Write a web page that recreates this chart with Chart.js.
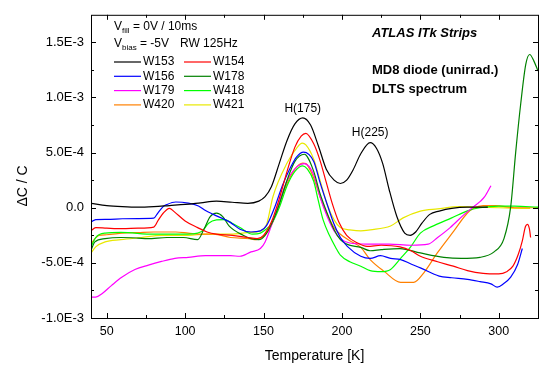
<!DOCTYPE html>
<html>
<head>
<meta charset="utf-8">
<title>MD8 diode DLTS spectrum</title>
<script src="https://cdn.jsdelivr.net/npm/chart.js"></script>
<style>
    body { margin: 0; background: #fff; }
    #dlts { display: block; }
</style>
</head>
<body>
<canvas id="dlts" width="543" height="372"></canvas>
<script>
// DLTS signal dC/C, values in units of 1E-4, temperatures in K
const tW153 = [40, 50, 60, 70, 80, 90, 100, 110, 120, 130, 140, 147, 151, 155, 160, 165, 170, 175, 180, 185, 190, 195, 199, 203, 207, 212, 218, 222, 226, 230, 235, 240, 243.5, 247, 251, 256, 262, 270, 280, 293];
const vW153 = [0.4, 0.2, 0.1, 0.05, 0.1, 0.2, 0.3, 0.45, 0.6, 0.5, 0.4, 0.6, 1.0, 1.9, 4.0, 6.1, 7.6, 8.15, 7.5, 5.6, 3.5, 2.5, 2.2, 2.5, 3.4, 4.9, 5.9, 5.4, 4.0, 1.7, -0.8, -2.3, -2.5, -2.2, -1.4, -0.6, -0.3, -0.05, 0.05, 0.05];

const tW154 = [40, 43, 50, 60, 70, 80, 83, 86, 90, 93, 100, 108, 114, 120, 130, 140, 146, 150, 155, 160, 165, 170, 174, 177, 182, 186, 190, 194, 198, 203, 210, 216, 225, 237, 244, 250, 261, 271, 280, 290, 300, 305, 309, 312.5, 315, 317, 318.3, 319.5, 320.3];
const vW154 = [-2.1, -1.8, -1.85, -1.9, -1.85, -1.75, -1.1, -0.5, -0.05, -0.35, -1.2, -1.8, -2.2, -2.4, -2.5, -2.7, -2.8, -2.5, -1.3, 0.8, 3.3, 5.5, 6.5, 6.75, 5.8, 4.3, 2.3, 0.3, -1.3, -2.5, -3.2, -3.5, -3.4, -3.55, -3.9, -4.4, -4.9, -5.3, -5.7, -5.95, -6.0, -5.8, -5.3, -4.2, -3.0, -1.7, -1.5, -1.9, -2.7];

const tW156 = [40, 43, 50, 60, 70, 80, 82.5, 86, 88.5, 94, 102, 108.5, 113, 118, 129, 135, 142, 148, 152, 157, 162, 167, 171, 175.5, 182, 186, 190.6, 195, 199, 203.4, 212, 218, 224.6, 231, 237.4, 244, 250, 262, 270, 280, 288, 295, 299, 303, 307.6, 312, 315];
const vW156 = [-1.3, -1.07, -1.05, -1.0, -0.98, -0.95, -0.5, 0.1, 0.3, 0.52, 0.42, 0.16, -0.25, -0.6, -1.35, -1.95, -2.2, -2.1, -1.6, 0.0, 2.0, 3.6, 4.6, 5.05, 4.2, 2.3, 0.3, -1.5, -2.7, -3.5, -4.4, -4.6, -4.35, -4.6, -4.7, -5.1, -5.45, -6.2, -6.35, -6.5, -6.7, -6.9, -7.2, -6.9, -6.3, -5.15, -3.7];

const tW178 = [40, 42.5, 49, 59, 70, 76, 88.5, 99, 108, 112, 116, 120, 124, 128, 137, 142, 147, 151, 155, 160, 165, 170, 176, 182, 186, 190.6, 195, 199, 203, 212, 218, 225, 237, 250, 265, 276, 288, 297, 303.3, 307.6, 310.8, 314, 317.2, 319.7, 322.4, 325];
const vW178 = [-3.85, -3.1, -2.8, -2.7, -2.75, -2.8, -2.7, -2.7, -2.9, -1.95, -0.8, -0.48, -0.8, -1.65, -2.5, -2.8, -2.9, -2.5, -1.5, 0.3, 2.5, 4.2, 4.85, 3.3, 1.3, -0.5, -2.0, -2.9, -3.3, -3.6, -3.9, -3.8, -3.7, -4.1, -4.5, -4.6, -4.5, -4.0, -2.8, 0.1, 5.07, 9.45, 13.0, 13.9, 13.3, 12.4];

const tW179 = [40, 43, 47, 53, 59.6, 68, 76.6, 85, 93.5, 102, 113, 129, 135, 142, 148, 151, 157, 165, 171.6, 176, 182, 186, 190.6, 195, 199, 205, 216, 230, 244, 255, 261, 269, 278, 284, 288.4, 291, 295];
const vW179 = [-8.1, -8.1, -7.8, -7.06, -6.3, -5.6, -5.2, -4.87, -4.6, -4.5, -4.35, -4.35, -4.4, -4.0, -3.7, -3.1, -0.8, 2.45, 3.75, 4.0, 3.0, 1.0, -0.8, -2.1, -2.8, -3.2, -3.3, -3.3, -3.4, -3.3, -2.7, -1.8, -0.6, 0.1, 0.6, 1.0, 2.0];

const tW418 = [40, 43, 49, 59, 80, 102, 108, 111, 115, 120, 125, 130, 135, 143, 148, 152, 155, 160, 165, 170, 175, 178, 182, 185, 188, 192, 196, 199, 205, 212, 218, 225, 231, 237.4, 243.8, 250, 259, 270, 280, 288, 300, 310, 325];
const vW418 = [-3.55, -2.7, -2.3, -2.24, -2.4, -2.4, -2.3, -2.1, -1.4, -1.1, -1.07, -1.4, -1.8, -2.4, -2.3, -1.9, -1.5, 0.0, 2.0, 3.3, 3.8, 3.5, 2.4, 0.6, -1.1, -2.5, -3.6, -4.3, -4.9, -5.3, -5.7, -5.8, -5.6, -4.6, -3.55, -2.3, -1.6, -0.92, -0.28, 0.0, 0.15, 0.15, 0.05];

const tW420 = [40, 42, 45, 50, 60, 70, 80, 94, 102, 110, 118, 129, 141, 145, 150, 155, 160, 165, 170, 175, 177, 182, 186, 190.6, 195, 199, 205, 212, 218, 226.7, 237.4, 245.7, 252.2, 260.8, 271.4, 280, 284, 290, 298, 310, 325];
const vW420 = [-3.3, -2.9, -2.5, -2.45, -2.3, -2.25, -2.2, -2.2, -2.3, -2.4, -2.4, -2.7, -2.8, -2.9, -2.6, -1.6, 0.4, 2.2, 3.5, 4.05, 4.0, 2.7, 1.0, -0.6, -1.8, -2.4, -3.0, -3.6, -4.7, -5.75, -6.77, -6.77, -5.9, -4.1, -2.1, -0.48, -0.05, 0.2, 0.2, 0.0, 0.0];

const tW421 = [40, 43, 49, 59, 72, 85, 102, 114, 129, 141, 148, 152, 156, 165, 171.6, 174.6, 177, 182, 186, 190.6, 195, 199, 205, 212, 218, 231, 239, 250, 261, 275, 288, 300, 315, 320];
const vW421 = [-4.1, -3.55, -3.1, -2.9, -2.7, -2.5, -2.5, -2.4, -2.4, -2.24, -2.1, -1.5, 1.0, 4.05, 5.5, 5.86, 5.7, 4.4, 2.5, 0.3, -1.1, -1.8, -2.0, -2.1, -2.0, -1.65, -0.92, -0.3, -0.1, 0.1, 0.05, 0.0, -0.05, -0.05];

const seriesNames = ['W153', 'W154', 'W156', 'W178', 'W179', 'W418', 'W420', 'W421'];
const seriesColors = ['#000000', '#ff0000', '#0000ff', '#008000', '#ff00ff', '#00ff00', '#ff8000', '#e8e800'];
const seriesT = [tW153, tW154, tW156, tW178, tW179, tW418, tW420, tW421];
const seriesV = [vW153, vW154, vW156, vW178, vW179, vW418, vW420, vW421];
const unit = 1e-4;

const xTicks = [50, 100, 150, 200, 250, 300];
const xMinor = [75, 125, 175, 225, 275];
const yTicks = [-1e-3, -5e-4, 0, 5e-4, 1e-3, 1.5e-3];
const yTickLabels = ['-1.0E-3', '-5.0E-4', '0.0', '5.0E-4', '1.0E-3', '1.5E-3'];
const yMinor = [-7.5e-4, -2.5e-4, 2.5e-4, 7.5e-4, 1.25e-3];

const peakLabels = [
    { text: 'H(175)', t: 175, v: 9.0 },
    { text: 'H(225)', t: 218, v: 6.8 }
];

Chart.defaults.font.family = 'Arial, "Liberation Sans", sans-serif';
Chart.defaults.color = '#000';

const datasets = seriesNames.map((name, i) => ({
    label: name,
    data: seriesT[i].map((t, j) => ({ x: t, y: seriesV[i][j] * unit })),
    borderColor: seriesColors[i],
    borderWidth: 1.2,
    pointRadius: 0,
    fill: false,
    cubicInterpolationMode: 'monotone'
}));

// frame, inward ticks, y title, legend block and text notes
const decorations = {
    id: 'decorations',
    afterDraw(chart) {
        const ctx = chart.ctx;
        const a = chart.chartArea;
        const x = chart.scales.x, y = chart.scales.y;
        ctx.save();
        ctx.strokeStyle = '#000';
        ctx.lineWidth = 1;
        ctx.strokeRect(a.left + 0.5, a.top + 0.5, a.right - a.left, a.bottom - a.top);

        ctx.beginPath();
        const tickX = (vals, len) => vals.forEach(v => {
            const px = Math.round(x.getPixelForValue(v)) + 0.5;
            ctx.moveTo(px, a.bottom); ctx.lineTo(px, a.bottom - len);
            ctx.moveTo(px, a.top); ctx.lineTo(px, a.top + len);
        });
        const tickY = (vals, len) => vals.forEach(v => {
            const py = Math.round(y.getPixelForValue(v)) + 0.5;
            ctx.moveTo(a.left, py); ctx.lineTo(a.left + len, py);
            ctx.moveTo(a.right, py); ctx.lineTo(a.right - len, py);
        });
        tickX(xTicks, 5); tickX(xMinor, 3);
        tickY(yTicks, 5); tickY(yMinor, 3);
        ctx.stroke();

        ctx.fillStyle = '#000';
        ctx.textBaseline = 'middle';

        // y axis title, sits a bit below the middle like the original
        ctx.save();
        ctx.translate(23, 186);
        ctx.rotate(-Math.PI / 2);
        ctx.textAlign = 'center';
        ctx.font = '14px Arial, "Liberation Sans", sans-serif';
        ctx.fillText('ΔC / C', 0, 0);
        ctx.restore();

        // legend header
        ctx.textAlign = 'left';
        const big = '12px Arial, "Liberation Sans", sans-serif';
        const small = '8px Arial, "Liberation Sans", sans-serif';
        const vSub = (sx, sy, sub, rest) => {
            ctx.font = big;
            ctx.fillText('V', sx, sy);
            let w = ctx.measureText('V').width;
            ctx.font = small;
            ctx.fillText(sub, sx + w, sy + 4);
            w += ctx.measureText(sub).width;
            ctx.font = big;
            ctx.fillText(rest, sx + w, sy);
        };
        vSub(114, 27, 'fill', ' = 0V / 10ms');
        vSub(114, 44, 'bias', ' = -5V');
        ctx.fillText('RW 125Hz', 180, 44);

        // legend entries, two columns
        ctx.font = big;
        ctx.lineWidth = 1.2;
        seriesNames.forEach((name, i) => {
            const col = i % 2, row = Math.floor(i / 2);
            const lx = col ? 184 : 114;
            const ly = 62 + row * 14.3;
            ctx.strokeStyle = seriesColors[i];
            ctx.beginPath();
            ctx.moveTo(lx, ly); ctx.lineTo(lx + 27, ly);
            ctx.stroke();
            ctx.fillText(name, lx + 29, ly);
        });

        // notes on the right
        ctx.font = 'italic bold 13px Arial, "Liberation Sans", sans-serif';
        ctx.fillText('ATLAS ITk Strips', 372, 33);
        ctx.font = 'bold 13px Arial, "Liberation Sans", sans-serif';
        ctx.fillText('MD8 diode (unirrad.)', 372, 70);
        ctx.fillText('DLTS spectrum', 372, 89);

        // peak labels
        ctx.font = big;
        ctx.textAlign = 'center';
        peakLabels.forEach(p => {
            ctx.fillText(p.text, x.getPixelForValue(p.t), y.getPixelForValue(p.v * unit));
        });
        ctx.restore();
    }
};

new Chart(document.getElementById('dlts'), {
    type: 'line',
    data: { datasets },
    options: {
        responsive: false,
        animation: false,
        layout: { padding: { top: 5, right: 5, left: 0, bottom: 0 } },
        plugins: { legend: { display: false }, tooltip: { enabled: false } },
        scales: {
            x: {
                type: 'linear',
                min: 40,
                max: 325,
                afterBuildTicks: s => { s.ticks = xTicks.map(v => ({ value: v })); },
                afterFit: s => { s.height = 54; },
                grid: { display: false, drawTicks: false },
                border: { display: false },
                ticks: { font: { size: 12.5 }, padding: 6, maxRotation: 0 },
                title: { display: true, text: 'Temperature [K]', font: { size: 14 }, padding: { top: 0, bottom: 7 } }
            },
            y: {
                type: 'linear',
                min: -1e-3,
                max: 1.75e-3,
                afterBuildTicks: s => { s.ticks = yTicks.map(v => ({ value: v })); },
                afterFit: s => { s.width = 91; },
                grid: { display: false, drawTicks: false },
                border: { display: false },
                ticks: {
                    font: { size: 13 },
                    padding: 7,
                    callback: v => yTickLabels[yTicks.findIndex(t => Math.abs(t - v) < 1e-9)]
                }
            }
        }
    },
    plugins: [decorations]
});
</script>
</body>
</html>
